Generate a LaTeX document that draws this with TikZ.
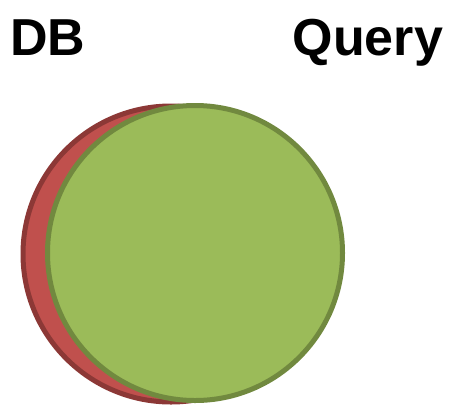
\documentclass[tikz,border=0pt]{standalone}
\usepackage{fontspec}
\setmainfont{Liberation Sans}
\definecolor{dbfill}{HTML}{C0504D}
\definecolor{dbline}{HTML}{8C3836}
\definecolor{qfill}{HTML}{9BBB59}
\definecolor{qline}{HTML}{71893F}
\begin{document}
\begin{tikzpicture}[x=1pt,y=-1pt,
  title/.style={font=\fontsize{52}{60}\selectfont\bfseries, inner sep=0pt, outer sep=0pt},
  setdisc/.style={circle, inner sep=0pt, line width=5pt}]
  \useasboundingbox (0,0) rectangle (449,405);
  % set labels
  \node[title, anchor=base west] (dblabel) at (10,55) {DB};
  \node[title, anchor=base east] (qlabel) at (443,55) {Query};
  % database set behind the query set
  \node[setdisc, draw=dbline, fill=dbfill, minimum size=296pt] (db) at (171,254) {};
  \node[setdisc, draw=qline, fill=qfill, minimum size=295pt] (query) at (195,253) {};
\end{tikzpicture}
\end{document}
